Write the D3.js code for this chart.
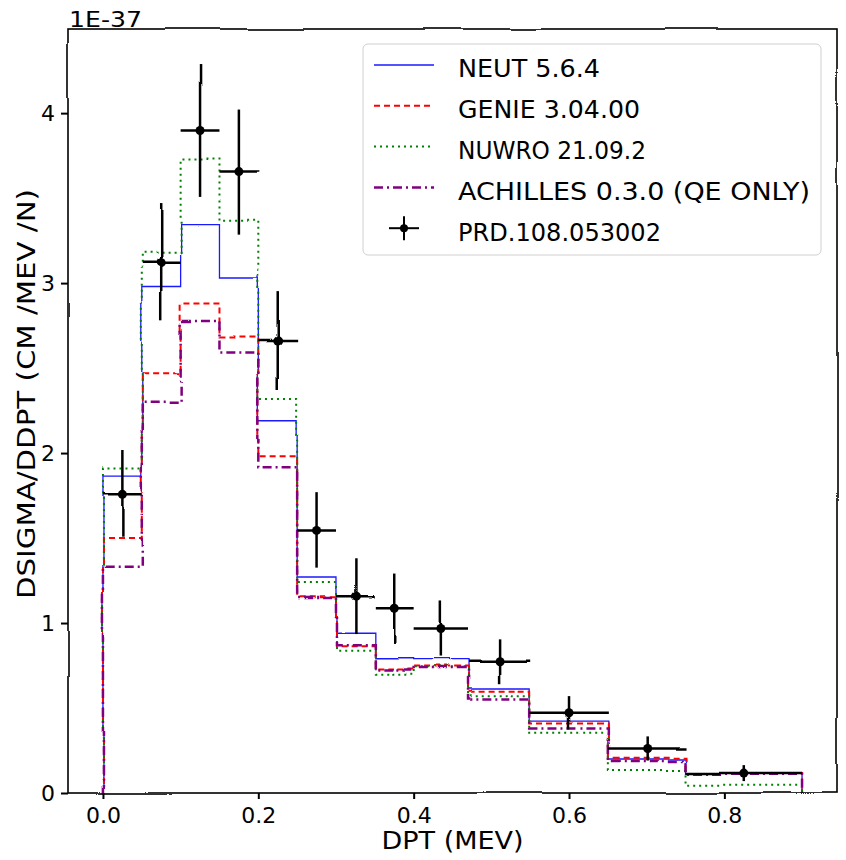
<!DOCTYPE html>
<html>
<head>
<meta charset="utf-8">
<script src="https://cdn.jsdelivr.net/npm/d3@7/dist/d3.min.js"></script>
<style>
  body { margin: 0; background: #fff; }
  text { font-family: "DejaVu Sans", sans-serif; fill: #000; }
</style>
</head>
<body>
<div id="chart"></div>
<script>
// bin edges in dpT (MeV) and cross sections (x 1E-37)
var binEdges = [0, 0.05, 0.1, 0.15, 0.2, 0.25, 0.3, 0.35, 0.4, 0.47, 0.55, 0.65, 0.75, 0.9];
var neut     = [1.87, 2.98, 3.35, 3.03, 2.19, 1.265, 0.94, 0.79, 0.785, 0.612, 0.423, 0.20, 0.115];
var genie    = [1.50, 2.47, 2.88, 2.68, 1.975, 1.152, 0.863, 0.726, 0.745, 0.595, 0.409, 0.207, 0.118];
var nuwro    = [1.915, 3.185, 3.733, 3.372, 2.318, 1.235, 0.837, 0.696, 0.74, 0.569, 0.354, 0.135, 0.048];
var achilles = [1.331, 2.296, 2.777, 2.591, 1.91, 1.148, 0.87, 0.72, 0.735, 0.55, 0.38, 0.188, 0.113];
var dataVal  = [1.763, 3.126, 3.898, 3.656, 2.659, 1.545, 1.158, 1.087, 0.962, 0.772, 0.472, 0.262, 0.117];
var dataErr  = [0.255, 0.345, 0.385, 0.365, 0.288, 0.225, 0.223, 0.21, 0.165, 0.132, 0.098, 0.071, 0.047];
var xTicks = [0, 0.2, 0.4, 0.6, 0.8];
var yTicks = [0, 1, 2, 3, 4];
var labels = ["NEUT 5.6.4", "GENIE 3.04.00", "NUWRO 21.09.2", "ACHILLES 0.3.0 (QE ONLY)", "PRD.108.053002"];

// style per series (text widths stretched to mimic the wide xkcd font)
var series = [
  {vals: neut, color: "#1a1aff", width: 1.3, dash: null, tl: 142},
  {vals: genie, color: "#ff0000", width: 2, dash: "6,4", tl: 182},
  {vals: nuwro, color: "#008000", width: 2, dash: "2,4", tl: 188},
  {vals: achilles, color: "#800080", width: 2.5, dash: "9,4,2,4", tl: 352}
];
series.forEach(function(s, i) { s.name = labels[i]; });

var W = 846, H = 860;
var margin = {top: 29, right: 9, bottom: 67, left: 68};
var width = W - margin.left - margin.right,
    height = H - margin.top - margin.bottom;

var svg = d3.select("#chart").append("svg").attr("width", W).attr("height", H);

// hand-drawn wobble
var defs = svg.append("defs");
var filt = defs.append("filter").attr("id", "wobble")
    .attr("filterUnits", "userSpaceOnUse")
    .attr("color-interpolation-filters", "sRGB")
    .attr("x", -60).attr("y", -60).attr("width", W + 120).attr("height", H + 120);
filt.append("feTurbulence").attr("type", "fractalNoise")
    .attr("baseFrequency", 0.012).attr("numOctaves", 1).attr("seed", 4).attr("result", "noise0");
filt.append("feColorMatrix").attr("in", "noise0").attr("type", "matrix")
    .attr("values", "1 0 0 0 0  0 1 0 0 0  0 0 1 0 0  0 0 0 0 1").attr("result", "noise");
filt.append("feDisplacementMap").attr("in", "SourceGraphic").attr("in2", "noise")
    .attr("scale", 5).attr("xChannelSelector", "R").attr("yChannelSelector", "G");

var g = svg.append("g").attr("transform", "translate(" + margin.left + "," + margin.top + ")");

var x = d3.scaleLinear().domain([-0.045, 0.945]).range([0, width]);
var y = d3.scaleLinear().domain([0, 4.495]).range([height, 0]);

var lines = g.append("g").attr("filter", "url(#wobble)");
// invisible box so the filtered group always has a full bbox
lines.append("rect").attr("x", -40).attr("y", -40).attr("width", width + 80).attr("height", height + 80)
  .attr("fill", "#fff").attr("fill-opacity", 0.001);

// step histograms
function stairs(vals) {
  var pts = [[binEdges[0], 0]];
  vals.forEach(function(v, i) {
    pts.push([binEdges[i], v]);
    pts.push([binEdges[i + 1], v]);
  });
  pts.push([binEdges[binEdges.length - 1], 0]);
  return pts;
}
var line = d3.line().x(function(d) { return x(d[0]); }).y(function(d) { return y(d[1]); });

series.forEach(function(s) {
  lines.append("path")
    .attr("d", line(stairs(s.vals)))
    .attr("fill", "none")
    .attr("stroke", s.color)
    .attr("stroke-width", s.width)
    .attr("stroke-dasharray", s.dash);
});

// data points with error bars
var pts = dataVal.map(function(v, i) {
  return {x0: binEdges[i], x1: binEdges[i + 1], xc: (binEdges[i] + binEdges[i + 1]) / 2, v: v, e: dataErr[i]};
});
var eb = lines.append("g").selectAll("g").data(pts).enter().append("g");
eb.append("line")
  .attr("x1", function(d) { return x(d.x0); }).attr("x2", function(d) { return x(d.x1); })
  .attr("y1", function(d) { return y(d.v); }).attr("y2", function(d) { return y(d.v); })
  .attr("stroke", "#000").attr("stroke-width", 2.5);
eb.append("line")
  .attr("x1", function(d) { return x(d.xc); }).attr("x2", function(d) { return x(d.xc); })
  .attr("y1", function(d) { return y(d.v - d.e); }).attr("y2", function(d) { return y(d.v + d.e); })
  .attr("stroke", "#000").attr("stroke-width", 2.5);
eb.append("circle")
  .attr("cx", function(d) { return x(d.xc); }).attr("cy", function(d) { return y(d.v); })
  .attr("r", 4.5).attr("fill", "#000");

// frame
lines.append("rect").attr("x", 0).attr("y", 0).attr("width", width).attr("height", height)
  .attr("fill", "none").attr("stroke", "#000").attr("stroke-width", 1.6);

// axes
var xAxis = g.append("g").attr("transform", "translate(0," + height + ")")
  .call(d3.axisBottom(x).tickValues(xTicks).tickFormat(d3.format(".1f")).tickSize(6).tickPadding(8));
var yAxis = g.append("g")
  .call(d3.axisLeft(y).tickValues(yTicks).tickFormat(d3.format("d")).tickSize(7).tickPadding(6));
[xAxis, yAxis].forEach(function(a) {
  a.select(".domain").remove();
  a.selectAll(".tick line").attr("stroke", "#000").attr("stroke-width", 2);
  a.selectAll(".tick text").attr("font-size", 22).attr("font-family", "DejaVu Sans, sans-serif");
});

g.append("text").attr("x", 1).attr("y", -2.5).attr("font-size", 22)
  .attr("textLength", 73).attr("lengthAdjust", "spacingAndGlyphs").text("1E-37");

g.append("text")
  .attr("x", width / 2).attr("y", height + 56)
  .attr("text-anchor", "middle").attr("font-size", 24)
  .attr("textLength", 142).attr("lengthAdjust", "spacingAndGlyphs")
  .text("DPT (MEV)");

svg.append("text")
  .attr("transform", "translate(35," + (margin.top + height / 2 - 17) + ") rotate(-90)")
  .attr("text-anchor", "middle").attr("font-size", 24)
  .attr("textLength", 410).attr("lengthAdjust", "spacingAndGlyphs")
  .text("DSIGMA/DDPT (CM /MEV /N)");

// legend
var legend = g.append("g").attr("transform", "translate(295,15)");
legend.append("rect").attr("x", 0).attr("y", 0).attr("width", 458).attr("height", 211)
  .attr("rx", 5).attr("fill", "#fff").attr("fill-opacity", 0.85)
  .attr("stroke", "#d0d0d0").attr("stroke-width", 1);
var rowH = 40.8;
var items = legend.selectAll("g.item").data(series.concat([{name: labels[4], data: true, tl: 203}]))
  .enter().append("g").attr("class", "item")
  .attr("transform", function(d, i) { return "translate(0," + (21 + i * rowH) + ")"; });
items.filter(function(d) { return !d.data; }).append("line")
  .attr("x1", 11).attr("x2", 71).attr("y1", 0).attr("y2", 0)
  .attr("stroke", function(d) { return d.color; })
  .attr("stroke-width", function(d) { return d.width; })
  .attr("stroke-dasharray", function(d) { return d.dash; });
var dl = items.filter(function(d) { return d.data; });
dl.append("line").attr("x1", 26).attr("x2", 56).attr("y1", 0).attr("y2", 0).attr("stroke", "#000").attr("stroke-width", 2);
dl.append("line").attr("x1", 41).attr("x2", 41).attr("y1", -12).attr("y2", 12).attr("stroke", "#000").attr("stroke-width", 2);
dl.append("circle").attr("cx", 41).attr("cy", 0).attr("r", 4).attr("fill", "#000");
items.append("text").attr("x", 95).attr("y", 4).attr("dy", "0.35em")
  .attr("font-size", 24)
  .attr("textLength", function(d) { return d.tl; }).attr("lengthAdjust", "spacingAndGlyphs")
  .text(function(d) { return d.name; });
</script>
</body>
</html>
